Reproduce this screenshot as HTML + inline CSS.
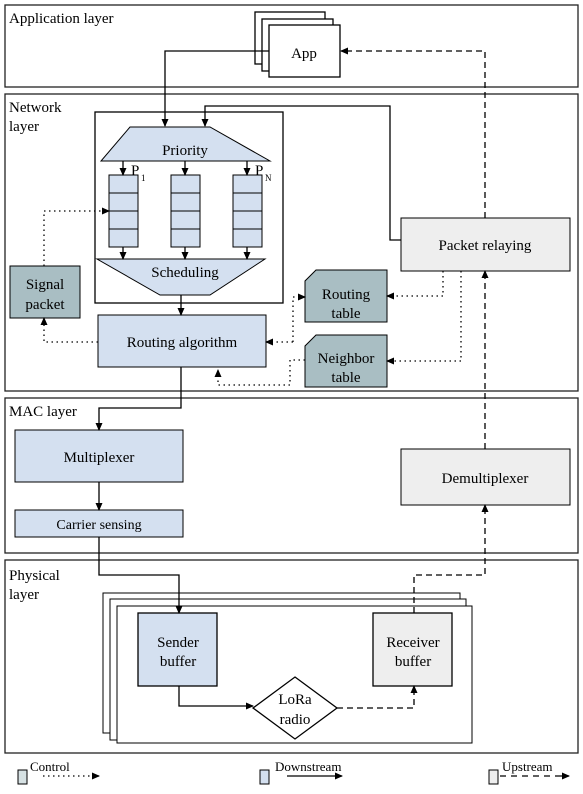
<!DOCTYPE html><html><head><meta charset="utf-8"><style>body{margin:0;background:#fff}</style></head><body>
<svg width="583" height="789" viewBox="0 0 583 789" xmlns="http://www.w3.org/2000/svg" font-family="Liberation Serif, serif" font-size="14">
<defs><marker id="a" markerWidth="8" markerHeight="8" refX="7" refY="4" orient="auto" markerUnits="userSpaceOnUse"><path d="M0,0.5 L8,4 L0,7.5z" fill="#000"/></marker></defs>
<g fill="none" stroke="#222" stroke-width="1.3">
<rect x="5" y="5" width="573" height="82"/><rect x="5" y="94" width="573" height="297"/><rect x="5" y="398" width="573" height="155"/><rect x="5" y="560" width="573" height="193"/>
</g>
<g font-size="15"><text x="9" y="23">Application layer</text><text x="9" y="112">Network</text><text x="9" y="131">layer</text><text x="9" y="416">MAC layer</text><text x="9" y="580">Physical</text><text x="9" y="599">layer</text></g>
<g stroke="#000" stroke-width="1.3" fill="#fff"><rect x="255" y="12" width="70" height="52"/><rect x="262" y="19" width="71" height="52"/><rect x="269" y="25" width="71" height="52"/></g>
<text x="304" y="58" text-anchor="middle" font-size="15">App</text>
<rect x="95" y="112" width="188" height="191" fill="none" stroke="#000" stroke-width="1.3"/>
<g stroke="#000" stroke-width="1" fill="#d4e0f0">
<polygon points="130,127 210,127 270,161 101,161"/>
<polygon points="97,259 265,259 210,295 160,295"/>
<rect x="98" y="315" width="168" height="52"/>
<rect x="15" y="430" width="168" height="52"/><rect x="15" y="510" width="168" height="27"/>
</g>
<g stroke="#000" stroke-width="1" fill="#d4e0f0">
<rect x="109" y="175" width="29" height="72"/><rect x="171" y="175" width="29" height="72"/><rect x="233" y="175" width="29" height="72"/>
<path d="M109,193H138M109,211H138M109,229H138M171,193H200M171,211H200M171,229H200M233,193H262M233,211H262M233,229H262" fill="none"/>
</g>
<text x="185" y="155" text-anchor="middle" font-size="15">Priority</text>
<text x="185" y="277" text-anchor="middle" font-size="15">Scheduling</text>
<text x="131" y="175" font-size="15">P</text><text x="141" y="181" font-size="9">1</text>
<text x="255" y="175" font-size="15">P</text><text x="265" y="181" font-size="9">N</text>
<text x="182" y="347" text-anchor="middle" font-size="15">Routing algorithm</text>
<text x="99" y="462" text-anchor="middle" font-size="15">Multiplexer</text>
<text x="99" y="529" text-anchor="middle" font-size="14">Carrier sensing</text>
<rect x="10" y="266" width="70" height="52" fill="#a9bec3" stroke="#000"/>
<text x="45" y="289" text-anchor="middle" font-size="15">Signal</text><text x="45" y="309" text-anchor="middle" font-size="15">packet</text>
<path d="M316,270H387V322H305V281z" fill="#a9bec3" stroke="#000"/>
<path d="M316,335H387V387H305V346z" fill="#a9bec3" stroke="#000"/>
<text x="346" y="299" text-anchor="middle" font-size="15">Routing</text><text x="346" y="318" text-anchor="middle" font-size="15">table</text>
<text x="346" y="363" text-anchor="middle" font-size="15">Neighbor</text><text x="346" y="382" text-anchor="middle" font-size="15">table</text>
<rect x="401" y="218" width="169" height="53" fill="#eeeeee" stroke="#000"/>
<text x="485" y="250" text-anchor="middle" font-size="15">Packet relaying</text>
<rect x="401" y="449" width="169" height="56" fill="#eeeeee" stroke="#000"/>
<text x="485" y="483" text-anchor="middle" font-size="15">Demultiplexer</text>
<g stroke="#000" stroke-width="1" fill="#fff"><rect x="103" y="593" width="357" height="140"/><rect x="110" y="599" width="356" height="141"/><rect x="117" y="606" width="355" height="137"/></g>
<rect x="138" y="613" width="79" height="73" fill="#d4e0f0" stroke="#000" stroke-width="1.3"/>
<rect x="373" y="613" width="79" height="73" fill="#eeeeee" stroke="#000" stroke-width="1.3"/>
<text x="178" y="647" text-anchor="middle" font-size="15">Sender</text><text x="178" y="666" text-anchor="middle" font-size="15">buffer</text>
<text x="413" y="647" text-anchor="middle" font-size="15">Receiver</text><text x="413" y="666" text-anchor="middle" font-size="15">buffer</text>
<polygon points="295,677 337,708 295,739 253,708" fill="#fff" stroke="#000" stroke-width="1.3"/>
<text x="295" y="704" text-anchor="middle" font-size="15">LoRa</text><text x="295" y="724" text-anchor="middle" font-size="15">radio</text>
<g fill="none" stroke="#000" stroke-width="1.3" marker-end="url(#a)">
<path d="M269,51H165V126"/><path d="M401,240H390V106H205V126"/>
<path d="M123,161V175"/><path d="M185,161V175"/><path d="M247,161V175"/>
<path d="M123,247V259"/><path d="M185,247V259"/><path d="M247,247V259"/>
<path d="M181,295V315"/><path d="M181,367V408H99V430"/><path d="M99,482V510"/>
<path d="M99,537V575H179V613"/><path d="M179,686V706H253"/>
</g>
<g fill="none" stroke="#000" stroke-width="1.3" stroke-dasharray="6,4" marker-end="url(#a)">
<path d="M485,218V51H341"/><path d="M485,449V271"/><path d="M414,613V575H485V505"/><path d="M337,708H414V686"/>
</g>
<g fill="none" stroke="#000" stroke-width="1.3" stroke-dasharray="1.5,3.5" marker-end="url(#a)">
<path d="M44,266V211H109"/><path d="M98,342H44V318"/>
<path d="M443,271V296H387"/><path d="M461,271V361H387"/>
<path d="M293,342V297H305"/><path d="M293,342H266"/>
<path d="M305,360H290V385H218V370"/>
</g>
<rect x="18" y="770" width="9" height="14" fill="#d6e1e3" stroke="#000"/>
<rect x="260" y="770" width="9" height="14" fill="#d4e0f0" stroke="#000"/>
<rect x="489" y="770" width="9" height="14" fill="#eeeeee" stroke="#000"/>
<g font-size="13"><text x="30" y="771">Control</text><text x="275" y="771">Downstream</text><text x="502" y="771">Upstream</text></g>
<g fill="none" stroke="#000" stroke-width="1.3" marker-end="url(#a)">
<path d="M43,776H99" stroke-dasharray="1.5,3.5"/><path d="M287,776H342"/><path d="M500,776H506M511,776H517M522,776H528M533,776H539M544,776H550M555,776H569" /></g>
</svg></body></html>
